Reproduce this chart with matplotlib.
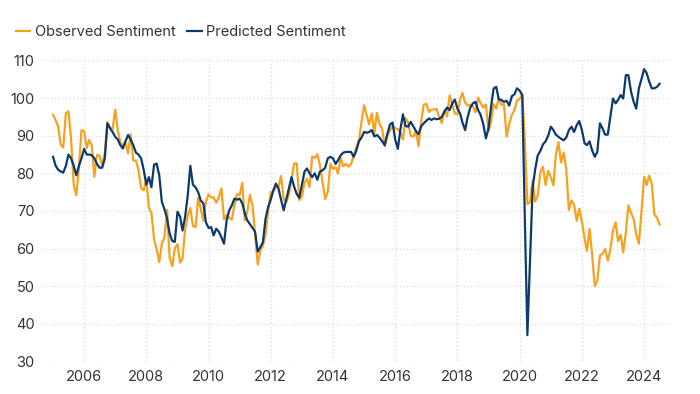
import numpy as np
import pandas as pd
import matplotlib.pyplot as plt
import matplotlib.dates as mdates

plt.rcParams["font.family"] = ["Inter", "DejaVu Sans"]

# monthly values, Jan 2005 .. Jul 2024
start_month = "2005-01-01"

observed = [
    95.5, 94.1, 92.6, 87.7, 86.9, 96.0, 96.5, 89.1, 76.9, 74.2, 81.6, 91.5,   # 2005
    91.2, 86.7, 88.9, 87.4, 79.1, 84.9, 84.7, 82.0, 85.4, 93.6, 92.1, 91.7,   # 2006
    96.9, 91.3, 88.4, 87.1, 88.3, 85.3, 90.4, 83.4, 83.4, 80.9, 76.1, 75.5,   # 2007
    78.4, 70.8, 69.5, 62.6, 59.8, 56.4, 61.2, 63.0, 70.3, 57.6, 55.3, 60.1,   # 2008
    61.2, 56.3, 57.3, 65.1, 68.7, 70.8, 66.0, 65.7, 73.5, 70.6, 67.4, 72.5,   # 2009
    74.4, 73.6, 73.6, 72.2, 73.6, 76.0, 67.8, 68.9, 68.2, 67.7, 71.6, 74.5,   # 2010
    74.2, 77.5, 67.5, 69.8, 74.3, 71.5, 63.7, 55.8, 59.5, 60.8, 63.7, 69.9,   # 2011
    75.0, 75.3, 76.2, 76.4, 79.3, 73.2, 72.3, 74.3, 78.3, 82.6, 82.7, 72.9,   # 2012
    73.8, 77.6, 78.6, 76.4, 84.5, 84.1, 85.1, 82.1, 77.5, 73.2, 75.1, 82.5,   # 2013
    81.2, 81.6, 80.0, 84.1, 81.9, 82.5, 81.8, 82.5, 84.6, 86.9, 88.8, 93.6,   # 2014
    98.1, 95.4, 93.0, 95.9, 90.7, 96.1, 93.1, 91.9, 87.2, 90.0, 91.3, 92.6,   # 2015
    92.0, 91.7, 91.0, 89.0, 94.7, 93.5, 90.0, 89.8, 91.2, 87.2, 93.8, 98.2,   # 2016
    98.5, 96.3, 96.9, 97.0, 97.1, 95.0, 93.4, 96.8, 95.1, 100.7, 98.5, 95.9,  # 2017
    95.7, 99.7, 101.4, 98.8, 98.0, 98.2, 97.9, 96.2, 100.1, 98.6, 97.5, 98.3, # 2018
    91.2, 93.8, 98.4, 97.2, 100.0, 98.2, 98.4, 89.8, 93.2, 95.5, 96.8, 99.3,  # 2019
    99.8, 101.0, 89.1, 71.8, 72.3, 78.1, 72.5, 74.1, 80.4, 81.8, 76.9, 80.7,  # 2020
    79.0, 76.8, 84.9, 88.3, 82.9, 85.5, 81.2, 70.3, 72.8, 71.7, 67.4, 70.6,   # 2021
    67.2, 62.8, 59.4, 65.2, 58.4, 50.0, 51.5, 58.2, 58.6, 59.9, 56.8, 59.7,   # 2022
    64.9, 67.0, 62.0, 63.7, 59.0, 64.2, 71.5, 69.5, 67.9, 63.8, 61.3, 69.7,   # 2023
    79.0, 76.9, 79.4, 77.2, 69.1, 68.2, 66.4,                                 # 2024
]

predicted = [
    84.4, 82.0, 81.0, 80.5, 80.2, 82.0, 85.0, 84.0, 82.0, 79.5, 82.0, 84.0,   # 2005
    86.5, 85.0, 85.0, 84.8, 84.0, 82.5, 81.5, 81.5, 84.0, 93.3, 92.0, 91.0,   # 2006
    89.7, 89.0, 87.5, 86.6, 88.5, 90.2, 89.0, 87.5, 85.5, 85.0, 84.0, 81.0,   # 2007
    77.0, 79.0, 76.3, 82.3, 82.6, 79.5, 72.5, 70.5, 68.0, 64.0, 62.0, 61.8,   # 2008
    69.8, 68.5, 64.8, 68.5, 74.0, 82.0, 77.0, 76.3, 75.0, 72.8, 72.0, 67.0,   # 2009
    65.5, 65.7, 63.5, 65.3, 64.5, 63.0, 61.3, 67.5, 70.2, 71.5, 73.3, 73.0,   # 2010
    73.3, 72.0, 69.5, 67.5, 66.5, 65.5, 64.5, 59.2, 60.4, 61.7, 68.0, 71.0,   # 2011
    73.0, 75.5, 77.3, 76.0, 73.0, 70.2, 73.0, 76.0, 79.0, 76.5, 74.5, 73.5,   # 2012
    77.0, 80.5, 81.3, 80.0, 79.0, 80.0, 78.3, 80.5, 80.8, 81.5, 84.0, 84.4,   # 2013
    84.0, 82.5, 83.5, 84.8, 85.5, 85.7, 85.7, 85.7, 84.4, 86.0, 88.5, 89.5,   # 2014
    91.0, 90.8, 91.0, 91.5, 89.8, 90.2, 89.5, 88.5, 87.5, 90.5, 93.0, 93.5,   # 2015
    89.0, 86.5, 91.5, 95.7, 92.6, 92.4, 93.7, 92.5, 91.2, 90.4, 92.5, 93.3,   # 2016
    94.0, 94.6, 94.2, 94.6, 94.4, 94.5, 95.0, 96.4, 97.5, 96.8, 98.6, 99.6,   # 2017
    97.2, 95.9, 93.5, 91.5, 95.0, 97.5, 98.6, 99.0, 96.8, 95.5, 93.0, 89.3,   # 2018
    92.0, 98.0, 102.5, 103.0, 99.7, 99.5, 99.0, 99.3, 98.0, 100.5, 101.0, 102.6,  # 2019
    102.0, 100.8, 69.0, 37.0, 56.5, 76.0, 81.0, 84.8, 86.0, 87.7, 88.5, 90.0,  # 2020
    92.4, 91.5, 90.3, 89.7, 89.2, 88.8, 89.5, 91.5, 92.4, 91.0, 92.8, 93.9,   # 2021
    91.5, 88.0, 87.5, 88.5, 86.1, 84.4, 85.7, 93.3, 91.9, 90.3, 90.3, 95.0,   # 2022
    99.9, 98.6, 99.5, 100.8, 99.9, 106.1, 106.1, 101.7, 99.0, 97.2, 102.6, 105.0,  # 2023
    107.7, 106.6, 104.4, 102.6, 102.6, 103.0, 103.8,                          # 2024
]

series_names = ["Observed Sentiment", "Predicted Sentiment"]
series_colors = ["#F6A11F", "#0C3A6C"]

dates = pd.date_range(start_month, periods=len(observed), freq="MS")

fig = plt.figure(figsize=(7, 3.94), dpi=100)
ax = fig.add_axes([0.0614, 0.0825, 0.8929, 0.764])

for vals, name, col in zip([observed, predicted], series_names, series_colors):
    ax.plot(dates, vals, color=col, lw=1.6, label=name, solid_joinstyle="round")

ax.set_ylim(30, 110)
ax.set_yticks(np.arange(30, 111, 10))
ax.set_xlim(pd.Timestamp("2004-09-05"), pd.Timestamp("2024-10-08"))
ax.xaxis.set_major_locator(mdates.YearLocator(2))
ax.xaxis.set_major_formatter(mdates.DateFormatter("%Y"))

ax.grid(True, color="#d9d9d9", lw=0.9, ls=(0, (1, 2)))
ax.set_axisbelow(True)
for s in ax.spines.values():
    s.set_visible(False)
ax.tick_params(length=0, labelsize=10.5, labelcolor="#333333", pad=6)

fig.legend(loc="center left", bbox_to_anchor=(0.012, 0.919), ncol=2, frameon=False,
           fontsize=10.5, handlelength=1.0, handletextpad=0.3, columnspacing=0.8,
           borderpad=0, labelcolor="#333333")

fig.savefig("out.png", dpi=100)
